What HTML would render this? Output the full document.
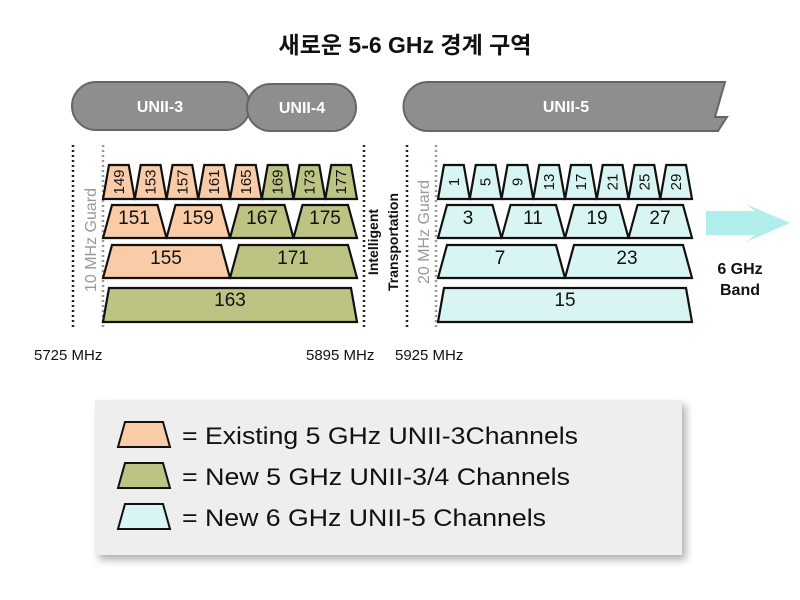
<!DOCTYPE html>
<html><head><meta charset="utf-8"><style>
html,body{margin:0;padding:0;background:#fff;}
svg{display:block;font-family:"Liberation Sans","Noto Sans CJK KR",sans-serif;}
</style></head><body>
<svg width="800" height="600" viewBox="0 0 800 600" xmlns="http://www.w3.org/2000/svg">
<defs>
<filter id="sh" x="-10%" y="-10%" width="125%" height="130%"><feDropShadow dx="4" dy="5" stdDeviation="4" flood-color="#000" flood-opacity="0.3"/></filter>
</defs>
<text x="405" y="53" text-anchor="middle" font-size="23" font-weight="bold" fill="#111">새로운 5-6 GHz 경계 구역</text>

<g fill="#8e8e8e" stroke="#666" stroke-width="2">
<rect x="72" y="82" width="178" height="48" rx="24"/>
<rect x="247" y="84" width="109" height="47" rx="23.5"/>
<path d="M428,82 L725,82 L715,117 L727,117 L718,131 L428,131 A24.5,24.5 0 0 1 428,82 Z"/>
</g>
<g fill="#fff" font-weight="bold" font-size="16" text-anchor="middle">
<text x="160" y="112">UNII-3</text>
<text x="302" y="113">UNII-4</text>
<text x="566" y="112">UNII-5</text>
</g>

<g stroke-width="2.5" stroke-dasharray="2 3">
<line x1="73" y1="145" x2="73" y2="330" stroke="#222"/>
<line x1="103" y1="145" x2="103" y2="330" stroke="#999"/>
<line x1="364" y1="145" x2="364" y2="330" stroke="#222"/>
<line x1="407" y1="145" x2="407" y2="330" stroke="#222"/>
<line x1="436" y1="145" x2="436" y2="330" stroke="#999"/>
</g>
<text transform="translate(96,240) rotate(-90)" text-anchor="middle" font-size="16" fill="#999">10 MHz Guard</text>
<text transform="translate(429,232) rotate(-90)" text-anchor="middle" font-size="16" fill="#999">20 MHz Guard</text>
<text transform="translate(378,242) rotate(-90)" text-anchor="middle" font-size="14" font-weight="bold" fill="#111">Intelligent</text>
<text transform="translate(398,242) rotate(-90)" text-anchor="middle" font-size="14" font-weight="bold" fill="#111">Transportation</text>

<g stroke="#111" stroke-width="2.2">
<g fill="#f9cba7">
<polygon points="103,199 109,165 128.75,165 134.75,199"/>
<polygon points="134.75,199 140.75,165 160.5,165 166.5,199"/>
<polygon points="166.5,199 172.5,165 192.25,165 198.25,199"/>
<polygon points="198.25,199 204.25,165 224,165 230,199"/>
<polygon points="230,199 236,165 255.75,165 261.75,199"/>
<polygon points="103,238 112,205 157.5,205 166.5,238"/>
<polygon points="166.5,238 175.5,205 221,205 230,238"/>
<polygon points="103,278 112,245 221,245 230,278"/>
</g>
<g fill="#bcc383">
<polygon points="261.75,199 267.75,165 287.5,165 293.5,199"/>
<polygon points="293.5,199 299.5,165 319.25,165 325.25,199"/>
<polygon points="325.25,199 331.25,165 351,165 357,199"/>
<polygon points="230,238 239,205 284.5,205 293.5,238"/>
<polygon points="293.5,238 302.5,205 348,205 357,238"/>
<polygon points="230,278 239,245 348,245 357,278"/>
<polygon points="103,322 109,288 351,288 357,322"/>
</g>
<g fill="#d9f5f3">
<polygon points="438,199 444,165 463.75,165 469.75,199"/>
<polygon points="469.75,199 475.75,165 495.5,165 501.5,199"/>
<polygon points="501.5,199 507.5,165 527.25,165 533.25,199"/>
<polygon points="533.25,199 539.25,165 559,165 565,199"/>
<polygon points="565,199 571,165 590.75,165 596.75,199"/>
<polygon points="596.75,199 602.75,165 622.5,165 628.5,199"/>
<polygon points="628.5,199 634.5,165 654.25,165 660.25,199"/>
<polygon points="660.25,199 666.25,165 686,165 692,199"/>
<polygon points="438,238 447,205 492.5,205 501.5,238"/>
<polygon points="501.5,238 510.5,205 556,205 565,238"/>
<polygon points="565,238 574,205 619.5,205 628.5,238"/>
<polygon points="628.5,238 637.5,205 683,205 692,238"/>
<polygon points="438,278 447,245 556,245 565,278"/>
<polygon points="565,278 574,245 683,245 692,278"/>
<polygon points="438,322 444,288 686,288 692,322"/>
</g>
</g>
<g font-size="15" fill="#111" text-anchor="middle">
<text transform="translate(124,182) rotate(-90)">149</text>
<text transform="translate(155.5,182) rotate(-90)">153</text>
<text transform="translate(187.5,182) rotate(-90)">157</text>
<text transform="translate(219,182) rotate(-90)">161</text>
<text transform="translate(251,182) rotate(-90)">165</text>
<text transform="translate(282.5,182) rotate(-90)">169</text>
<text transform="translate(314.5,182) rotate(-90)">173</text>
<text transform="translate(346,182) rotate(-90)">177</text>
<text transform="translate(459,182) rotate(-90)">1</text>
<text transform="translate(490.5,182) rotate(-90)">5</text>
<text transform="translate(522.5,182) rotate(-90)">9</text>
<text transform="translate(554,182) rotate(-90)">13</text>
<text transform="translate(586,182) rotate(-90)">17</text>
<text transform="translate(617.5,182) rotate(-90)">21</text>
<text transform="translate(649.5,182) rotate(-90)">25</text>
<text transform="translate(681,182) rotate(-90)">29</text>
</g>
<g font-size="19" fill="#111" text-anchor="middle">
<text x="134" y="224">151</text><text x="198" y="224">159</text>
<text x="262" y="224">167</text><text x="325" y="224">175</text>
<text x="166" y="264">155</text><text x="293" y="264">171</text>
<text x="230" y="306">163</text>
<text x="468" y="224">3</text><text x="533" y="224">11</text>
<text x="597" y="224">19</text><text x="660" y="224">27</text>
<text x="500" y="264">7</text><text x="627" y="264">23</text>
<text x="565" y="306">15</text>
</g>

<path d="M706,211 L755,211 L746,204 L790,223 L746,242 L755,235 L706,235 Z" fill="#b0eeec"/>
<text x="740" y="274" text-anchor="middle" font-size="16" font-weight="bold" fill="#111">6 GHz</text>
<text x="740" y="295" text-anchor="middle" font-size="16" font-weight="bold" fill="#111">Band</text>

<g font-size="15" fill="#111">
<text x="34" y="360">5725 MHz</text>
<text x="306" y="360">5895 MHz</text>
<text x="395" y="360">5925 MHz</text>
</g>

<rect x="95" y="400" width="587" height="155" fill="#eeeeee" filter="url(#sh)"/>
<g stroke="#111" stroke-width="2">
<polygon points="118,447 125,422 163,422 170,447" fill="#f9cba7"/>
<polygon points="118,488 125,463 163,463 170,488" fill="#bcc383"/>
<polygon points="118,529 125,504 163,504 170,529" fill="#d9f5f3"/>
</g>
<g font-size="24" fill="#111">
<text x="182" y="444" textLength="396" lengthAdjust="spacingAndGlyphs">= Existing 5 GHz UNII-3Channels</text>
<text x="182" y="485" textLength="388" lengthAdjust="spacingAndGlyphs">= New 5 GHz UNII-3/4 Channels</text>
<text x="182" y="526" textLength="364" lengthAdjust="spacingAndGlyphs">= New 6 GHz UNII-5 Channels</text>
</g>
</svg>
</body></html>
